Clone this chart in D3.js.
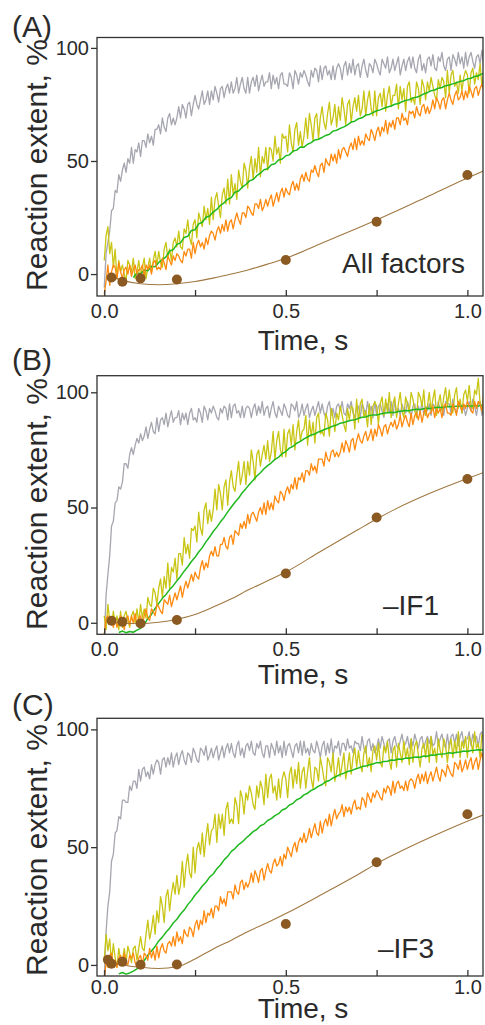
<!DOCTYPE html>
<html>
<head>
<meta charset="utf-8">
<script src="https://cdn.jsdelivr.net/npm/d3@7"></script>
<style>
  body { margin: 0; background: #fff; }
  svg { display: block; }
  text { font-family: "Liberation Sans", Arial, Helvetica, sans-serif; fill: #2a2a2a; }
</style>
</head>
<body>
<svg id="chart" width="485" height="1025"></svg>
<script>
// ---- sampling of the stopped-flow traces ----
const traceStep = 0.005;   // s between samples of gray / yellow / orange traces
const greenStep = 0.01;    // s between samples of the green trace
const greenStarts = [0.08, 0.04, 0.04];

// ---- axis ticks and labels ----
const xTickValues = [0, 0.25, 0.5, 0.75, 1.0];
const xTickLabels = ["0.0", "", "0.5", "", "1.0"];
const yTickValues = [0, 50, 100];
const yTickLabels = ["0", "50", "100"];
const panelLetters = ["(A)", "(B)", "(C)"];
const conditionLabels = ["All factors", "\u2013IF1", "\u2013IF3"];
const xTitle = "Time, s";
const yTitle = "Reaction extent, %";

// ---- (A) all factors ----
const aGray = [
  -6, 9, 14, 19, 28, 29, 37, 36, 44, 41,
  46, 49, 45, 51, 49, 56, 49, 55, 54, 58,
  52, 59, 59, 56, 62, 58, 61, 57, 64, 64,
  66, 62, 69, 65, 63, 69, 71, 66, 69, 66,
  69, 74, 69, 75, 73, 69, 75, 76, 70, 75,
  79, 75, 73, 77, 81, 75, 77, 81, 75, 81,
  77, 83, 80, 76, 82, 83, 78, 82, 84, 80,
  85, 80, 82, 87, 80, 84, 87, 82, 80, 87,
  80, 85, 87, 83, 88, 81, 85, 88, 83, 85,
  85, 89, 82, 88, 84, 87, 82, 88, 89, 84,
  84, 83, 89, 87, 82, 90, 88, 84, 89, 87,
  90, 88, 85, 83, 90, 87, 91, 90, 85, 92,
  86, 91, 92, 88, 90, 86, 92, 86, 91, 93,
  91, 86, 92, 94, 88, 93, 89, 95, 88, 92,
  93, 87, 92, 95, 90, 87, 93, 92, 89, 95,
  93, 90, 88, 95, 93, 91, 96, 89, 91, 95,
  90, 93, 96, 88, 92, 95, 90, 94, 96, 91,
  96, 91, 89, 95, 97, 90, 93, 89, 95, 96,
  92, 97, 91, 90, 96, 94, 98, 92, 90, 95,
  96, 90, 97, 95, 92, 98, 93, 96, 91, 98,
  92, 96, 98, 94, 91, 96, 97, 93, 99, 92
];
const aYellow = [
  6, 17, 21, 9, 14, 3, 11, -2, 6, 1,
  4, 0, -3, 6, 4, 1, 7, -2, 1, 6,
  -1, 3, 7, -2, 3, 7, 1, 6, 10, 4,
  10, 5, 3, 11, 14, 7, 11, 6, 14, 16,
  12, 19, 12, 11, 20, 18, 24, 16, 13, 22,
  24, 16, 27, 24, 21, 30, 24, 29, 22, 34,
  24, 33, 36, 30, 25, 35, 38, 31, 42, 31,
  44, 35, 40, 33, 46, 41, 38, 49, 46, 38,
  47, 52, 42, 51, 45, 56, 43, 52, 49, 56,
  46, 56, 55, 50, 61, 53, 56, 49, 62, 60,
  61, 54, 66, 58, 54, 64, 67, 57, 63, 56,
  61, 69, 60, 71, 66, 59, 69, 71, 60, 69,
  74, 67, 64, 71, 76, 66, 69, 75, 65, 74,
  68, 78, 73, 66, 75, 77, 67, 74, 78, 72,
  79, 70, 73, 81, 70, 77, 81, 73, 70, 81,
  70, 78, 80, 74, 82, 72, 79, 83, 74, 79,
  79, 84, 73, 83, 77, 82, 72, 83, 85, 76,
  78, 75, 85, 82, 75, 86, 83, 77, 85, 81,
  87, 83, 79, 77, 86, 82, 87, 85, 78, 90,
  80, 88, 90, 83, 85, 80, 88, 81, 87, 90,
  88, 80, 89, 91, 84, 89, 86, 93, 83, 89
];
const aGreen = [
  -1.5, 0.5, 0, 1.8, 1.5, 3.4, 3.2, 5.1, 6.4, 7.6,
  10.2, 10.8, 13.1, 13.8, 16.2, 16.7, 19.3, 19.6, 22.2, 22.9,
  25.1, 25.7, 27.4, 28.6, 30.4, 31.5, 33.1, 33.8, 36.2, 36.7,
  38.4, 39.6, 41.2, 41.8, 43.5, 44.6, 46.1, 46.6, 48.3, 48.8,
  50.4, 50.9, 52.3, 52.7, 54.4, 54.8, 56.2, 56.1, 57.4, 58.1,
  59.3, 59.6, 60.4, 61.3, 61.8, 63.2, 63.6, 64.4, 65.1, 66.0,
  67.2, 67.6, 68.7, 69.1, 70.3, 70.6, 71.4, 72.2, 72.6, 73.3,
  73.9, 74.3, 75.1, 75.4, 76.2, 76.8, 77.1, 77.9, 78.2, 78.8,
  79.7, 80.2, 81.1, 81.4, 82.2, 82.5, 83.3, 83.6, 84.1, 84.6,
  85.2, 85.5, 86.3, 86.6, 87.4, 87.7, 88.5, 89.1
];
const aOrange = [
  -9, -3, 4, -5, 1, 4, 3, -2, 5, 1,
  -2, 2, 3, 0, 4, -1, 2, 4, 0, 2,
  2, 4, -1, 4, 2, 4, 0, 5, 6, 2,
  3, 2, 7, 5, 2, 8, 6, 4, 8, 6,
  9, 8, 6, 5, 10, 8, 11, 11, 7, 14,
  9, 13, 15, 12, 14, 11, 16, 13, 17, 19,
  18, 15, 19, 21, 18, 22, 19, 24, 19, 23,
  24, 20, 24, 27, 24, 22, 27, 27, 25, 30,
  29, 27, 26, 31, 31, 29, 33, 28, 30, 33,
  30, 33, 35, 30, 33, 36, 32, 36, 38, 34,
  38, 36, 35, 39, 41, 37, 40, 37, 42, 44,
  41, 45, 42, 41, 46, 45, 48, 45, 43, 48,
  49, 45, 51, 49, 48, 53, 50, 53, 49, 55,
  51, 55, 56, 54, 52, 56, 58, 55, 60, 55,
  61, 57, 59, 57, 62, 60, 59, 64, 62, 59,
  63, 65, 61, 65, 63, 68, 62, 67, 65, 68,
  64, 69, 69, 66, 71, 68, 69, 66, 72, 71,
  72, 69, 74, 71, 70, 74, 75, 71, 74, 71,
  73, 77, 73, 78, 76, 73, 77, 78, 73, 77,
  80, 77, 75, 79, 81, 77, 78, 81, 77, 81,
  78, 83, 81, 78, 82, 83, 79, 82, 84, 81
];
const aDotTimes = [0.02, 0.05, 0.1, 0.2, 0.5, 0.75, 1.0];
const aDots = [-1.5, -3.4, -1.9, -2.4, 6.2, 23.1, 43.8];

// ---- (B) without IF1 ----
const bGray = [
  -8, 12, 21, 29, 42, 44, 52, 53, 59, 58,
  61, 69, 69, 67, 73, 76, 73, 77, 80, 78,
  82, 79, 81, 85, 80, 84, 87, 83, 82, 89,
  83, 88, 89, 86, 91, 85, 89, 92, 87, 89,
  89, 92, 86, 91, 88, 91, 86, 91, 93, 88,
  89, 87, 93, 91, 87, 94, 92, 88, 93, 91,
  94, 92, 89, 88, 93, 91, 94, 93, 88, 95,
  89, 94, 95, 91, 92, 89, 94, 89, 93, 94,
  93, 89, 93, 95, 90, 94, 91, 96, 90, 93,
  94, 89, 93, 96, 91, 89, 94, 92, 90, 95,
  93, 90, 89, 95, 94, 92, 96, 89, 91, 95,
  90, 93, 95, 89, 92, 94, 90, 93, 96, 91,
  95, 91, 89, 94, 96, 90, 93, 89, 94, 95,
  92, 96, 91, 90, 95, 93, 96, 91, 89, 94,
  94, 89, 95, 93, 90, 96, 91, 94, 89, 96,
  90, 94, 95, 92, 89, 94, 95, 91, 96, 90,
  96, 91, 93, 90, 95, 92, 91, 96, 93, 89,
  94, 95, 90, 94, 91, 96, 90, 94, 92, 95,
  90, 95, 94, 91, 96, 92, 93, 90, 96, 95,
  95, 91, 97, 93, 91, 95, 96, 91, 94, 90,
  93, 96, 92, 97, 94, 90, 95, 96, 90, 94
];
const bYellow = [
  3, -3, 8, 1, -1, 5, 0, 3, -3, 5,
  -2, 3, 5, 1, -2, 3, 5, 0, 6, 0,
  8, 2, 6, 2, 11, 8, 7, 15, 13, 8,
  15, 19, 11, 20, 15, 26, 15, 24, 22, 28,
  19, 30, 30, 25, 37, 30, 34, 28, 41, 40,
  42, 35, 48, 41, 38, 49, 52, 43, 49, 44,
  49, 58, 49, 60, 56, 49, 59, 62, 51, 61,
  66, 59, 57, 64, 70, 60, 64, 70, 60, 70,
  64, 75, 70, 62, 73, 75, 68, 73, 77, 71,
  79, 70, 74, 83, 71, 79, 83, 75, 72, 84,
  72, 82, 84, 77, 86, 75, 83, 88, 79, 83,
  84, 90, 77, 88, 81, 87, 78, 89, 91, 82,
  83, 81, 91, 88, 81, 93, 89, 83, 91, 88,
  94, 90, 86, 83, 93, 88, 94, 93, 84, 97,
  87, 95, 97, 89, 92, 85, 95, 86, 94, 96,
  94, 86, 95, 98, 90, 97, 91, 100, 89, 95,
  98, 89, 95, 100, 92, 89, 98, 95, 91, 100,
  97, 92, 89, 100, 98, 94, 101, 90, 94, 100,
  92, 97, 101, 90, 95, 99, 92, 98, 102, 94,
  101, 94, 91, 99, 102, 93, 97, 91, 99, 101,
  96, 103, 94, 93, 101, 99, 106, 95, 92, 100
];
const bGreen = [
  -4.2, -3.6, -4.3, -3.8, -4.1, -3.2, -2.4, -0.8, 1.9, 3.6,
  6.2, 8.4, 10.6, 12.3, 14.4, 16.1, 18.2, 20.1, 22.4, 24.3,
  26.6, 28.4, 30.7, 32.6, 35.1, 37.2, 39.6, 41.5, 43.8, 45.7,
  48.1, 50.2, 52.3, 54.1, 56.4, 58.2, 60.1, 61.8, 63.7, 65.1,
  66.8, 68.2, 69.4, 70.9, 71.8, 73.4, 74.3, 75.8, 76.6, 77.9,
  78.7, 79.8, 80.6, 81.5, 81.9, 82.8, 83.4, 84.1, 84.6, 85.4,
  85.8, 86.6, 86.9, 87.4, 87.9, 88.1, 88.7, 89.2, 89.3, 89.9,
  90.2, 90.1, 90.6, 90.9, 91.1, 91.3, 91.2, 91.7, 91.9, 92.1,
  92.0, 92.4, 92.6, 92.5, 92.9, 93.1, 93.0, 93.3, 93.5, 93.4,
  93.6, 93.8, 93.7, 94.0, 93.9, 94.1, 94.2, 94.0, 94.3, 94.1, 94.4, 94.2
];
const bOrange = [
  -5, 2, 3, 0, 1, -2, 2, -2, 1, 3,
  1, -3, 2, 3, -1, 3, 0, 4, -1, 2,
  3, -1, 3, 6, 2, 1, 6, 5, 3, 8,
  7, 5, 4, 10, 9, 8, 12, 7, 10, 13,
  10, 13, 16, 11, 15, 18, 15, 18, 21, 18,
  22, 20, 19, 24, 27, 23, 26, 24, 29, 31,
  29, 33, 29, 29, 34, 34, 37, 33, 32, 37,
  38, 34, 40, 39, 38, 43, 41, 44, 41, 47,
  43, 47, 48, 46, 44, 48, 50, 47, 52, 47,
  53, 49, 52, 49, 55, 53, 52, 57, 56, 53,
  57, 59, 56, 60, 58, 63, 58, 63, 62, 65,
  61, 66, 66, 64, 69, 66, 68, 65, 71, 71,
  71, 68, 74, 71, 70, 74, 75, 72, 74, 72,
  74, 78, 74, 79, 77, 74, 79, 80, 75, 79,
  82, 79, 78, 81, 83, 79, 81, 84, 79, 84,
  81, 86, 84, 81, 85, 86, 82, 85, 87, 85,
  88, 84, 86, 90, 85, 88, 90, 87, 85, 91,
  86, 90, 91, 88, 92, 87, 91, 93, 89, 91,
  91, 94, 89, 93, 91, 93, 89, 94, 95, 91,
  91, 90, 95, 93, 90, 96, 94, 92, 95, 93,
  96, 94, 92, 91, 96, 93, 96, 95, 92, 97
];
const bDotTimes = [0.02, 0.05, 0.1, 0.2, 0.5, 0.75, 1.0];
const bDots = [0.9, 0.4, -0.3, 1.2, 21.4, 45.7, 62.4];

// ---- (C) without IF3 ----
const cGray = [
  -5, 14, 25, 31, 44, 47, 56, 57, 63, 62,
  70, 70, 69, 69, 76, 74, 78, 78, 75, 83,
  78, 83, 84, 80, 82, 79, 85, 81, 85, 87,
  86, 81, 87, 88, 84, 88, 85, 90, 84, 88,
  90, 85, 89, 91, 87, 85, 90, 89, 86, 92,
  90, 87, 86, 92, 91, 89, 93, 87, 89, 92,
  88, 91, 93, 87, 90, 93, 88, 92, 94, 90,
  94, 90, 88, 93, 95, 89, 92, 88, 93, 94,
  91, 95, 90, 89, 94, 92, 95, 90, 88, 93,
  93, 88, 94, 92, 89, 95, 90, 93, 88, 95,
  89, 93, 94, 91, 88, 93, 94, 90, 95, 89,
  95, 90, 92, 89, 94, 91, 90, 95, 92, 88,
  93, 95, 89, 94, 90, 96, 89, 93, 92, 95,
  89, 94, 94, 91, 96, 92, 93, 90, 95, 94,
  94, 91, 97, 92, 90, 95, 96, 91, 94, 90,
  92, 96, 92, 97, 94, 91, 95, 96, 90, 95,
  97, 93, 92, 95, 98, 93, 94, 97, 92, 96,
  93, 98, 95, 92, 96, 97, 92, 95, 97, 94,
  97, 93, 94, 99, 93, 96, 98, 94, 92, 98,
  92, 97, 98, 94, 98, 93, 97, 99, 94, 96,
  96, 99, 93, 98, 95, 97, 93, 98, 99, 94
];
const cYellow = [
  2, 13, 6, 11, 1, 9, 3, -1, 7, 2,
  2, 7, 1, 8, 5, 1, 7, 8, 2, 7,
  12, 7, 6, 13, 19, 11, 15, 21, 13, 23,
  18, 29, 25, 18, 29, 32, 23, 30, 35, 30,
  38, 30, 34, 44, 33, 42, 47, 39, 37, 50,
  39, 49, 52, 47, 56, 46, 54, 60, 51, 57,
  58, 64, 52, 64, 58, 64, 55, 66, 69, 60,
  62, 60, 71, 68, 60, 74, 71, 64, 73, 70,
  76, 73, 68, 66, 76, 71, 78, 75, 68, 81,
  71, 79, 81, 73, 76, 70, 79, 71, 79, 82,
  79, 71, 81, 84, 75, 83, 77, 86, 75, 82,
  84, 75, 82, 88, 79, 75, 84, 83, 78, 88,
  84, 79, 76, 88, 86, 82, 90, 78, 82, 88,
  80, 85, 90, 79, 84, 90, 81, 88, 92, 84,
  91, 85, 82, 90, 93, 84, 88, 82, 91, 93,
  87, 94, 86, 84, 93, 90, 95, 87, 83, 91,
  93, 84, 94, 90, 86, 95, 88, 92, 85, 96,
  86, 93, 95, 89, 84, 92, 94, 88, 96, 86,
  97, 89, 92, 86, 96, 91, 88, 96, 93, 86,
  93, 96, 88, 95, 90, 99, 88, 95, 92, 97,
  88, 97, 95, 90, 99, 92, 94, 88, 98, 96
];
const cGreen = [
  -3.8, -3.2, -3.9, -3.4, -2.6, -1.7, 0.4, 1.9, 4.1, 5.9,
  7.8, 10.2, 11.8, 13.9, 15.6, 17.8, 19.4, 21.6, 23.3, 25.6,
  27.4, 29.7, 31.4, 33.5, 35.1, 37.3, 38.6, 40.8, 42.4, 44.6,
  46.1, 48.2, 49.4, 51.1, 52.2, 53.8, 55.1, 56.6, 57.5, 59.1,
  59.8, 61.3, 62.1, 63.4, 64.2, 65.8, 66.4, 67.9, 68.6, 70.1,
  70.8, 72.2, 72.9, 74.1, 74.8, 75.9, 76.6, 77.8, 78.3, 79.4,
  80.1, 80.9, 81.4, 82.1, 82.4, 83.1, 83.6, 84.2, 84.4, 85.0,
  85.3, 85.9, 85.8, 86.4, 86.5, 87.0, 86.9, 87.4, 87.3, 87.8,
  87.7, 88.1, 88.3, 88.2, 88.7, 88.6, 89.1, 89.0, 89.4, 89.5,
  89.7, 90.1, 89.9, 90.3, 90.4, 90.8, 90.6, 91.0, 91.1, 91.3, 91.2, 91.5
];
const cOrange = [
  -6, 1, -1, 4, 5, 0, 2, -1, 3, 4,
  1, 5, 1, 0, 4, 3, 5, 1, -1, 3,
  4, 0, 5, 4, 2, 7, 3, 6, 2, 8,
  3, 7, 9, 6, 5, 9, 10, 8, 12, 8,
  14, 10, 12, 9, 15, 13, 12, 16, 15, 12,
  17, 19, 15, 19, 17, 23, 18, 22, 21, 24,
  20, 25, 25, 23, 29, 26, 28, 25, 31, 31,
  31, 28, 34, 31, 30, 35, 36, 32, 35, 33,
  35, 39, 35, 40, 38, 35, 40, 41, 36, 40,
  43, 40, 39, 43, 45, 42, 43, 46, 42, 47,
  45, 50, 48, 46, 50, 52, 48, 52, 54, 52,
  56, 52, 54, 58, 54, 57, 60, 56, 55, 61,
  56, 60, 62, 59, 64, 59, 63, 66, 62, 64,
  65, 68, 63, 67, 65, 67, 64, 68, 70, 66,
  67, 66, 71, 70, 67, 73, 71, 69, 73, 71,
  74, 73, 71, 70, 75, 73, 76, 75, 72, 78,
  73, 77, 78, 75, 76, 74, 78, 74, 78, 79,
  78, 75, 79, 81, 77, 81, 78, 82, 77, 80,
  82, 78, 81, 84, 80, 78, 83, 82, 80, 85,
  83, 81, 80, 86, 85, 83, 87, 82, 84, 87,
  83, 86, 88, 83, 86, 88, 83, 87, 90, 86
];
const cDotTimes = [0.01, 0.02, 0.05, 0.1, 0.2, 0.5, 0.75, 1.0];
const cDots = [2.2, 0.5, 1.3, 0.1, 0.2, 17.4, 43.6, 64.0];

// ---- kinetic model curves through the brown points ----
const fitTimes = [0.01, 0.02, 0.05, 0.1, 0.15, 0.2, 0.25, 0.3, 0.35, 0.4, 0.45, 0.5, 0.6, 0.7, 0.75, 0.8, 0.9, 1.0, 1.05];
const aFit = [-0.5, -1.2, -2.8, -4.3, -4.7, -4.3, -3.3, -1.8, 0, 2, 4.4, 7, 13.7, 20.5, 24, 27.5, 35, 42.5, 46];
const bFit = [0.3, 0.2, -0.2, -0.4, 0.2, 1.5, 3.6, 6.8, 10.4, 14.5, 18.2, 22, 31.4, 40.5, 45, 49.2, 56.4, 62.6, 65.5];
const cFit = [1.5, 1, 0, -1, -1.5, -0.8, 2.5, 6.8, 10.5, 14.5, 18, 21.8, 30, 38.5, 43, 47, 54.3, 61, 64];

// ---- styling ----
const colors = {
  gray: "#a6a6b0",
  yellow: "#c9c514",
  green: "#1fb81f",
  orange: "#ff8a10",
  fit: "#a07842",
  dot: "#8b5a22",
  axis: "#333"
};

// ---- panel geometry ----
const frameLeft = 97, frameRight = 483;
const xDomain = [-0.02, 1.043];
const layout = [
  { top: 37.5, bottom: 296, yDomain: [-9.7, 104.6], letterY: 37, xTitleY: 350, yTitleY: 165, condX: 342, condY: 273, tickPad: 8 },
  { top: 375.7, bottom: 634.3, yDomain: [-5.0, 107.2], letterY: 370, xTitleY: 684, yTitleY: 504, condX: 383, condY: 615, tickPad: 8 },
  { top: 718.3, bottom: 976, yDomain: [-4.7, 104.7], letterY: 715, xTitleY: 1018, yTitleY: 850, condX: 378, condY: 958, tickPad: 4 }
];

const panelData = [
  { gray: aGray, yellow: aYellow, green: aGreen, orange: aOrange, dotTimes: aDotTimes, dots: aDots, fit: aFit },
  { gray: bGray, yellow: bYellow, green: bGreen, orange: bOrange, dotTimes: bDotTimes, dots: bDots, fit: bFit },
  { gray: cGray, yellow: cYellow, green: cGreen, orange: cOrange, dotTimes: cDotTimes, dots: cDots, fit: cFit }
];

const svg = d3.select("#chart");
const x = d3.scaleLinear().domain(xDomain).range([frameLeft, frameRight]);

const toPoints = (values, start, step) => values.map((v, i) => ({ t: start + i * step, v }));

panelData.forEach((p, k) => {
  const L = layout[k];
  const y = d3.scaleLinear().domain(L.yDomain).range([L.bottom, L.top]);
  const g = svg.append("g");

  const clipId = "clip" + k;
  svg.append("clipPath").attr("id", clipId)
    .append("rect")
    .attr("x", frameLeft).attr("y", L.top)
    .attr("width", frameRight - frameLeft).attr("height", L.bottom - L.top);

  const line = d3.line().x(d => x(d.t)).y(d => y(d.v));
  const plot = g.append("g").attr("clip-path", `url(#${clipId})`);

  const traces = [
    { pts: toPoints(p.gray, 0, traceStep), color: colors.gray, w: 1.3 },
    { pts: toPoints(p.yellow, 0, traceStep), color: colors.yellow, w: 1.3 },
    { pts: toPoints(p.green, greenStarts[k], greenStep), color: colors.green, w: 1.5 },
    { pts: toPoints(p.orange, 0, traceStep), color: colors.orange, w: 1.3 }
  ];
  traces.forEach(tr => {
    plot.append("path")
      .datum(tr.pts)
      .attr("fill", "none")
      .attr("stroke", tr.color)
      .attr("stroke-width", tr.w)
      .attr("stroke-linejoin", "round")
      .attr("d", line);
  });

  const fitLine = d3.line().x(d => x(d.t)).y(d => y(d.v)).curve(d3.curveMonotoneX);
  plot.append("path")
    .datum(fitTimes.map((t, i) => ({ t, v: p.fit[i] })))
    .attr("fill", "none")
    .attr("stroke", colors.fit)
    .attr("stroke-width", 1.1)
    .attr("d", fitLine);

  plot.selectAll("circle.pt")
    .data(p.dotTimes.map((t, i) => ({ t, v: p.dots[i] })))
    .join("circle")
    .attr("class", "pt")
    .attr("cx", d => x(d.t))
    .attr("cy", d => y(d.v))
    .attr("r", 5)
    .attr("fill", colors.dot);

  // frame
  g.append("rect")
    .attr("x", frameLeft).attr("y", L.top)
    .attr("width", frameRight - frameLeft).attr("height", L.bottom - L.top)
    .attr("fill", "none").attr("stroke", colors.axis).attr("stroke-width", 1.3);

  // x axis: inward ticks
  const xAxis = d3.axisBottom(x).tickValues(xTickValues)
    .tickSize(-6).tickPadding(L.tickPad)
    .tickFormat((d, i) => xTickLabels[i]);
  const gx = g.append("g").attr("transform", `translate(0,${L.bottom})`).call(xAxis);
  gx.select(".domain").remove();
  gx.selectAll(".tick line").attr("stroke", colors.axis).attr("stroke-width", 1.3);
  gx.selectAll(".tick text").attr("font-size", 20).attr("fill", "#2a2a2a")
    .attr("font-family", '"Liberation Sans", Arial, sans-serif');

  // y axis: outward ticks
  const yAxis = d3.axisLeft(y).tickValues(yTickValues)
    .tickSize(6).tickPadding(2)
    .tickFormat((d, i) => yTickLabels[i]);
  const gy = g.append("g").attr("transform", `translate(${frameLeft},0)`).call(yAxis);
  gy.select(".domain").remove();
  gy.selectAll(".tick line").attr("stroke", colors.axis).attr("stroke-width", 1.3);
  gy.selectAll(".tick text").attr("font-size", 20).attr("fill", "#2a2a2a")
    .attr("font-family", '"Liberation Sans", Arial, sans-serif');

  // titles
  g.append("text").attr("x", 12).attr("y", L.letterY)
    .attr("font-size", 30).text(panelLetters[k]);
  g.append("text").attr("x", 303).attr("y", L.xTitleY)
    .attr("text-anchor", "middle").attr("font-size", 28).text(xTitle);
  g.append("text")
    .attr("transform", `translate(47,${L.yTitleY}) rotate(-90)`)
    .attr("text-anchor", "middle").attr("font-size", 30).text(yTitle);
  g.append("text").attr("x", L.condX).attr("y", L.condY)
    .attr("font-size", 28).text(conditionLabels[k]);
});
</script>
</body>
</html>
